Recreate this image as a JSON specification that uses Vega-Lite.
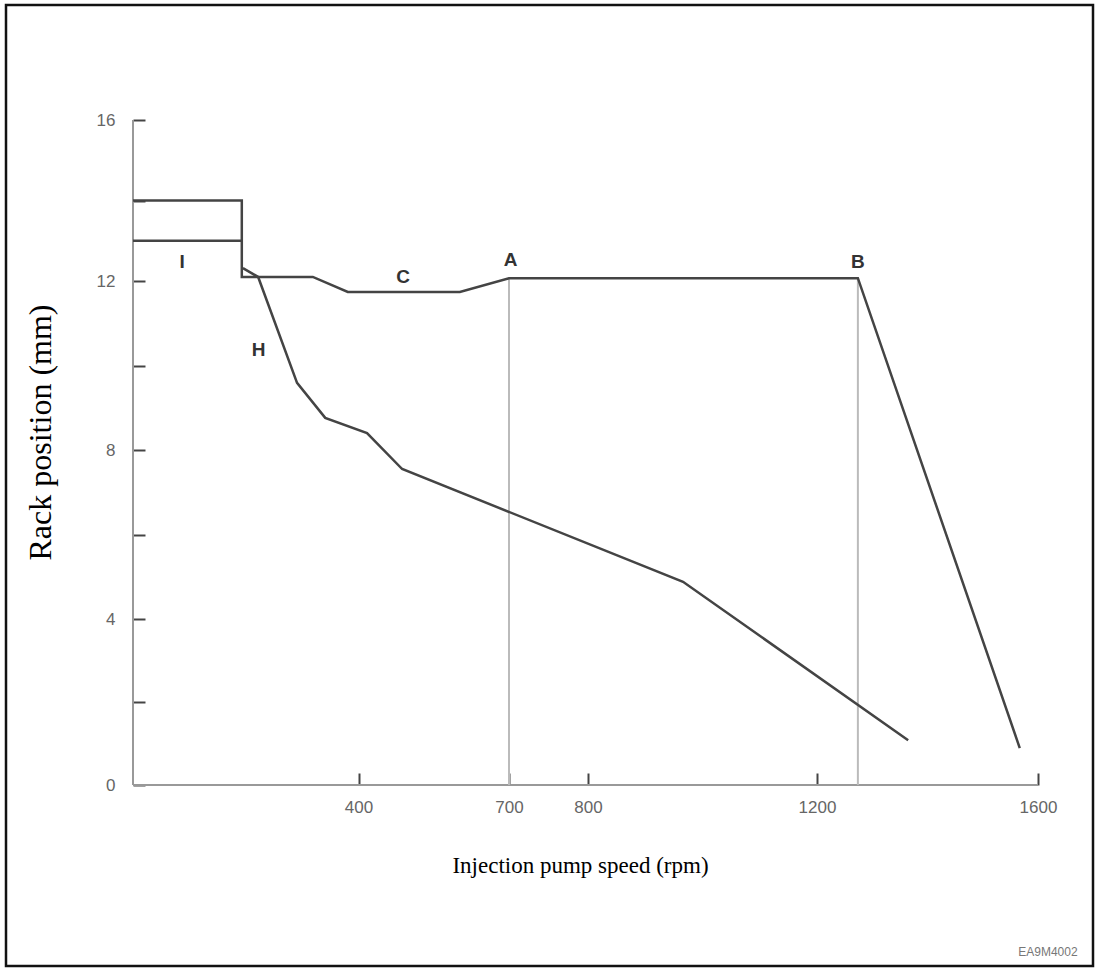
{
  "$schema": "https://vega.github.io/schema/vega-lite/v6.json",
  "width": 1087,
  "height": 961,
  "autosize": {"type": "none"},
  "padding": {"left": 6, "top": 5, "right": 3, "bottom": 2},
  "background": "white",
  "config": {
    "view": {"stroke": "#111", "strokeWidth": 2.5},
    "axis": {"grid": false}
  },
  "datasets": {
    "axes": [
      {"rpm": 0, "mm": 0, "rpm2": 1600, "mm2": 0},
      {"rpm": 0, "mm": 0, "rpm2": 0, "mm2": 16}
    ],
    "refs": [
      {"rpm": 700, "mm": 0, "mm2": 12.07, "name": "A"},
      {"rpm": 1274, "mm": 0, "mm2": 12.07, "name": "B"}
    ],
    "curves": [
      {"series": "I-upper", "o": 1, "rpm": 0, "mm": 14.0},
      {"series": "I-upper", "o": 2, "rpm": 193, "mm": 14.0},
      {"series": "I-upper", "o": 3, "rpm": 193, "mm": 12.1},
      {"series": "I-upper", "o": 4, "rpm": 319, "mm": 12.1},
      {"series": "I-upper", "o": 5, "rpm": 381, "mm": 11.74},
      {"series": "I-upper", "o": 6, "rpm": 602, "mm": 11.74},
      {"series": "I-upper", "o": 7, "rpm": 700, "mm": 12.07},
      {"series": "I-upper", "o": 8, "rpm": 1274, "mm": 12.07},
      {"series": "I-upper", "o": 9, "rpm": 1567, "mm": 0.89},
      {"series": "I-lower", "o": 1, "rpm": 0, "mm": 13.0},
      {"series": "I-lower", "o": 2, "rpm": 193, "mm": 13.0},
      {"series": "H", "o": 1, "rpm": 195, "mm": 12.32},
      {"series": "H", "o": 2, "rpm": 222, "mm": 12.1},
      {"series": "H", "o": 3, "rpm": 291, "mm": 9.59},
      {"series": "H", "o": 4, "rpm": 341, "mm": 8.76},
      {"series": "H", "o": 5, "rpm": 417, "mm": 8.4},
      {"series": "H", "o": 6, "rpm": 487, "mm": 7.55},
      {"series": "H", "o": 7, "rpm": 966, "mm": 4.88},
      {"series": "H", "o": 8, "rpm": 1365, "mm": 1.08}
    ],
    "labels": [
      {"rpm": 87, "mm": 12.47, "t": "I"},
      {"rpm": 489, "mm": 12.1, "t": "C"},
      {"rpm": 702, "mm": 12.52, "t": "A"},
      {"rpm": 1274, "mm": 12.47, "t": "B"},
      {"rpm": 223, "mm": 10.37, "t": "H"}
    ],
    "code": [
      {"rpm": 1618, "mm": -4.02, "t": "EA9M4002"}
    ]
  },
  "encoding": {
    "x": {
      "field": "rpm",
      "type": "quantitative",
      "scale": {
        "domain": [-225, 0, 400, 700, 800, 1200, 1600, 1700],
        "range": [0, 127, 352.5, 503, 582, 811, 1032, 1087],
        "nice": false,
        "zero": false
      },
      "axis": {
        "orient": "bottom",
        "offset": -181,
        "domain": false,
        "grid": false,
        "values": [400, 700, 800, 1200, 1600],
        "format": "d",
        "tickSize": -12,
        "tickWidth": 2,
        "tickColor": "#444",
        "labelPadding": 26,
        "labelFlush": false,
        "labelOverlap": false,
        "labelFont": "Liberation Sans",
        "labelFontSize": 17,
        "labelColor": "#666",
        "title": "Injection pump speed (rpm)",
        "titleFont": "Liberation Serif",
        "titleFontSize": 23,
        "titleFontWeight": "normal",
        "titleColor": "#000",
        "titleX": 574,
        "titleY": 87,
        "titleAlign": "center",
        "titleBaseline": "alphabetic"
      }
    },
    "y": {
      "field": "mm",
      "type": "quantitative",
      "scale": {
        "domain": [-4.36, 0, 4, 12, 16, 18.86],
        "range": [961, 780, 614, 276, 115, 0],
        "nice": false,
        "zero": false
      },
      "axis": {
        "orient": "left",
        "offset": -127,
        "domain": false,
        "grid": false,
        "values": [0, 2, 4, 6, 8, 10, 12, 14, 16],
        "tickSize": -12,
        "tickWidth": 2,
        "tickColor": "#444",
        "labelPadding": 30,
        "labelFlush": false,
        "labelOverlap": false,
        "labelExpr": "datum.value % 4 === 0 ? datum.label : ''",
        "labelFont": "Liberation Sans",
        "labelFontSize": 17,
        "labelColor": "#666",
        "title": "Rack position (mm)",
        "titleFont": "Liberation Serif",
        "titleFontSize": 32,
        "titleFontWeight": "normal",
        "titleColor": "#000",
        "titleAngle": -90,
        "titleX": -93,
        "titleY": 427,
        "titleAlign": "center",
        "titleBaseline": "middle"
      }
    }
  },
  "layer": [
    {
      "data": {"name": "axes"},
      "mark": {"type": "rule", "color": "#999", "strokeWidth": 2},
      "encoding": {
        "x2": {"field": "rpm2"},
        "y2": {"field": "mm2"}
      }
    },
    {
      "data": {"name": "refs"},
      "mark": {"type": "rule", "color": "#bbb", "strokeWidth": 2},
      "encoding": {
        "y2": {"field": "mm2"}
      }
    },
    {
      "data": {"name": "curves"},
      "mark": {"type": "line", "color": "#444", "strokeWidth": 2.5},
      "encoding": {
        "detail": {"field": "series", "type": "nominal"},
        "order": {"field": "o", "type": "quantitative"}
      }
    },
    {
      "data": {"name": "labels"},
      "mark": {"type": "text", "font": "Liberation Sans", "fontSize": 19, "fontWeight": "bold", "color": "#333", "baseline": "middle", "align": "center"},
      "encoding": {
        "text": {"field": "t"}
      }
    },
    {
      "data": {"name": "code"},
      "mark": {"type": "text", "font": "Liberation Sans", "fontSize": 12, "color": "#777", "baseline": "middle", "align": "center"},
      "encoding": {
        "text": {"field": "t"}
      }
    }
  ]
}
